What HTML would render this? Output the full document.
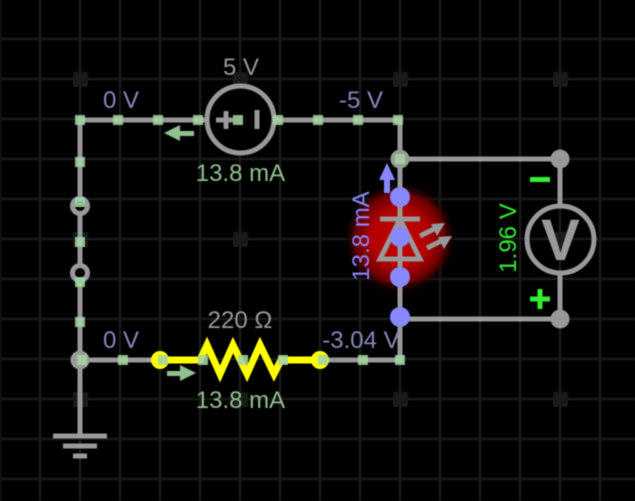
<!DOCTYPE html>
<html><head><meta charset="utf-8"><style>
html,body{margin:0;padding:0;background:#000;width:635px;height:501px;overflow:hidden}
svg{display:block;filter:blur(.45px)}
text{font-family:"Liberation Sans",sans-serif;font-size:24px}
</style></head><body>
<svg width="635" height="501" viewBox="0 0 635 501" xmlns="http://www.w3.org/2000/svg">
<defs>
<radialGradient id="g"><stop offset="0" stop-color="#c40000"/><stop offset=".5" stop-color="#b40000"/><stop offset=".78" stop-color="#680000"/><stop offset="1" stop-color="#000" stop-opacity="0"/></radialGradient>
</defs>
<rect width="635" height="501" fill="#000"/>
<g stroke="#1a1a1a" stroke-width="2.500">
<path d="M0 0V501M40 0V501M80 0V501M120 0V501M160 0V501M200 0V501M240 0V501M280 0V501M320 0V501M360 0V501M400 0V501M440 0V501M480 0V501M520 0V501M560 0V501M600 0V501"/>
<path d="M0 39H635M0 79H635M0 119H635M0 159H635M0 199H635M0 239H635M0 279H635M0 319H635M0 359H635M0 399H635M0 439H635M0 479H635"/>
</g>
<g fill="#1a1a1a">
<rect x="73" y="72" width="15" height="15"/><rect x="233" y="72" width="15" height="15"/><rect x="393" y="72" width="15" height="15"/><rect x="553" y="72" width="15" height="15"/>
<rect x="73" y="232" width="15" height="15"/><rect x="233" y="232" width="15" height="15"/><rect x="393" y="232" width="15" height="15"/><rect x="553" y="232" width="15" height="15"/>
<rect x="73" y="392" width="15" height="15"/><rect x="233" y="392" width="15" height="15"/><rect x="393" y="392" width="15" height="15"/><rect x="553" y="392" width="15" height="15"/>
</g>
<circle cx="400" cy="238" r="57" fill="url(#g)"/>
<g stroke="#999" stroke-width="5" fill="none">
<path d="M205 120H80V436M275 120H400V360H320M160 360H80M400 159H560V205M400 319H560V274"/>
<circle cx="240.500" cy="119.500" r="33.500" fill="#000"/>
<circle cx="560.500" cy="239.500" r="33.500" fill="none"/>
<circle cx="80" cy="206" r="7.500" fill="#000"/>
<circle cx="80" cy="273" r="7.500" fill="#000"/>
<path d="M53 436H107M63 446H97M73 456H87"/>
<path d="M380 219H420M400 219L380 259H420Z"/>
<path d="M216 120H233M226 111V129"/>
<path d="M257 110V129"/>
<path d="M420 236L434 229M427 248L441 241"/>
</g>
<path d="M445 223L431 224L437 236ZM452 236L438 237L444 249Z" fill="#999"/>
<circle cx="80" cy="360" r="9.500" fill="#999"/>
<circle cx="400" cy="159" r="9.500" fill="#999"/>
<circle cx="560" cy="159" r="9.500" fill="#999"/>
<circle cx="560" cy="319" r="9.500" fill="#999"/>
<text x="560.500" y="260" text-anchor="middle" fill="#999" style="font-size:58px;font-weight:bold">V</text>
<g fill="#ff0" stroke="none"><circle cx="160" cy="360" r="9"/><circle cx="320" cy="360" r="9"/></g>
<path d="M160 360H200L207 345L220 374L233 345L247 374L260 345L274 374L281 360H320" fill="none" stroke="#ff0" stroke-width="7"/>
<g fill="#a4d4a4" fill-opacity=".88">
<rect x="75" y="115" width="10" height="10"/><rect x="113" y="115" width="10" height="10"/><rect x="153" y="115" width="10" height="10"/><rect x="193" y="115" width="10" height="10"/><rect x="233" y="115" width="10" height="10"/><rect x="273" y="115" width="10" height="10"/><rect x="313" y="115" width="10" height="10"/><rect x="353" y="115" width="10" height="10"/><rect x="393" y="115" width="10" height="10"/>
<rect x="395" y="154" width="10" height="10"/>
<rect x="75" y="157" width="10" height="10"/><rect x="75" y="197" width="10" height="10"/><rect x="75" y="237" width="10" height="10"/><rect x="75" y="277" width="10" height="10"/><rect x="75" y="317" width="10" height="10"/><rect x="77" y="355" width="10" height="10"/>
<rect x="118" y="355" width="10" height="10"/><rect x="158" y="355" width="10" height="10"/><rect x="198" y="355" width="10" height="10"/><rect x="238" y="355" width="10" height="10"/><rect x="278" y="355" width="10" height="10"/><rect x="318" y="355" width="10" height="10"/><rect x="358" y="355" width="10" height="10"/><rect x="395" y="355" width="10" height="10"/>
</g>
<g fill="#8888ff">
<circle cx="400" cy="197" r="10"/><circle cx="400" cy="237" r="10"/><circle cx="400" cy="277" r="10"/><circle cx="400" cy="317" r="10"/>
<path d="M387 163L395 180H390V193H384V180H379Z"/>
</g>
<path d="M164 133L180 125V131H194V136H180V141Z" fill="#8fc08f"/>
<path d="M196 373L180 365V371H167V376H180V381Z" fill="#8fc08f"/>
<g fill="#999">
<text x="241" y="75" text-anchor="middle">5 V</text>
<text x="240" y="328" text-anchor="middle">220 Ω</text>
</g>
<g fill="#8888bb">
<text x="121" y="108" text-anchor="middle">0 V</text>
<text x="361" y="108" text-anchor="middle">-5 V</text>
<text x="121" y="348" text-anchor="middle">0 V</text>
<text x="361" y="348" text-anchor="middle">-3.04 V</text>
</g>
<g fill="#8fc08f">
<text x="240.500" y="181" text-anchor="middle">13.8 mA</text>
<text x="240.500" y="408" text-anchor="middle">13.8 mA</text>
</g>
<text transform="translate(369 236) rotate(-90)" text-anchor="middle" fill="#8888ff">13.8 mA</text>
<text transform="translate(516 238) rotate(-90)" text-anchor="middle" fill="#33ee33">1.96 V</text>
<rect x="530" y="177" width="20" height="5" fill="#33ee33"/>
<path d="M530 299H550M540 289V309" stroke="#33ee33" stroke-width="5" fill="none"/>
</svg>
</body></html>
